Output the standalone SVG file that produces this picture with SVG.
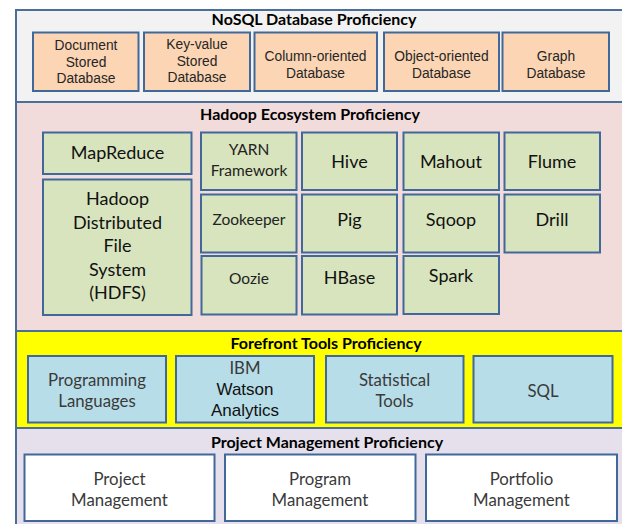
<svg xmlns="http://www.w3.org/2000/svg" width="622" height="524" viewBox="0 0 622 524">
<style>
.sec{stroke:#4a6d99;stroke-width:2}
.box{stroke:#41689a;stroke-width:2}
.nosql{fill:#fcd5b4}
.had{fill:#d7e4bd}
.ff{fill:#b7dde8}
.pm{fill:#ffffff}
.title{font-family:Lato,"Open Sans",sans-serif;font-weight:bold;font-size:16px;fill:#000;text-anchor:middle}
.ar{font-family:"Liberation Sans",Arial,sans-serif;font-size:13.8px;fill:#262626;text-anchor:middle}
.cal{font-family:Lato,"Open Sans",sans-serif;font-size:18px;fill:#111;text-anchor:middle}
.cals{font-family:Lato,"Open Sans",sans-serif;font-size:15.5px;fill:#222;text-anchor:middle}
.calg{font-family:Lato,"Open Sans",sans-serif;font-size:16.8px;fill:#3a3a3a;text-anchor:middle}
.arw{font-family:"Liberation Sans",Arial,sans-serif;font-size:17px;fill:#111;text-anchor:middle}
</style>
<rect width="622" height="524" fill="#ffffff"/>
<!-- Sections -->
<g id="sec-nosql">
<rect class="sec" x="16" y="10" width="612" height="92" fill="#f2f2f2"/>
<text class="title" x="314" y="25">NoSQL Database Proficiency</text>
</g>
<g id="sec-hadoop">
<rect class="sec" x="16" y="102" width="612" height="229" fill="#f2dcdb"/>
<text class="title" x="310" y="120">Hadoop Ecosystem Proficiency</text>
</g>
<g id="sec-forefront">
<rect class="sec" x="16" y="331" width="612" height="97" fill="#ffff00"/>
<text class="title" x="326" y="349">Forefront Tools Proficiency</text>
</g>
<g id="sec-pm">
<rect class="sec" x="16" y="428" width="612" height="100" fill="#e6e0ec"/>
<text class="title" x="327" y="448">Project Management Proficiency</text>
</g>
<!-- NoSQL nodes -->
<g id="n-document">
<rect class="box nosql" x="33" y="32.5" width="105.5" height="58.5"/>
<text class="ar" x="86" y="50">Document</text>
<text class="ar" x="86" y="66.5">Stored</text>
<text class="ar" x="86" y="83">Database</text>
</g>
<g id="n-keyvalue">
<rect class="box nosql" x="144" y="32.5" width="106" height="58.5"/>
<text class="ar" x="197" y="49">Key-value</text>
<text class="ar" x="197" y="65.5">Stored</text>
<text class="ar" x="197" y="82">Database</text>
</g>
<g id="n-column">
<rect class="box nosql" x="254.5" y="32.5" width="122.5" height="58.5"/>
<text class="ar" x="315.5" y="60.5">Column-oriented</text>
<text class="ar" x="315.5" y="77.5">Database</text>
</g>
<g id="n-object">
<rect class="box nosql" x="384" y="32.5" width="115" height="58.5"/>
<text class="ar" x="441.5" y="60.5">Object-oriented</text>
<text class="ar" x="441.5" y="77.5">Database</text>
</g>
<g id="n-graph">
<rect class="box nosql" x="502.5" y="32.5" width="106.5" height="58.5"/>
<text class="ar" x="556" y="60.5">Graph</text>
<text class="ar" x="556" y="77.5">Database</text>
</g>
<!-- Hadoop nodes -->
<g id="n-mapreduce">
<rect class="box had" x="43" y="132.5" width="148.5" height="41.5"/>
<text class="cal" x="117.5" y="159">MapReduce</text>
</g>
<g id="n-hdfs">
<rect class="box had" x="43" y="179.5" width="148.5" height="135.5"/>
<text class="cal" x="117.5" y="205">Hadoop</text>
<text class="cal" x="117.5" y="228.5">Distributed</text>
<text class="cal" x="117.5" y="252">File</text>
<text class="cal" x="117.5" y="275.5">System</text>
<text class="cal" x="117.5" y="299">(HDFS)</text>
</g>
<g id="n-yarn">
<rect class="box had" x="201" y="132.5" width="95.5" height="57.5"/>
<text class="cals" x="249" y="154.5">YARN</text>
<text class="cals" x="249" y="175.5">Framework</text>
</g>
<g id="n-hive">
<rect class="box had" x="302" y="132.5" width="95" height="57.5"/>
<text class="cal" x="349.5" y="168">Hive</text>
</g>
<g id="n-mahout">
<rect class="box had" x="403.5" y="132.5" width="95.5" height="57.5"/>
<text class="cal" x="451" y="168">Mahout</text>
</g>
<g id="n-flume">
<rect class="box had" x="504.5" y="132.5" width="95.5" height="57.5"/>
<text class="cal" x="552" y="168">Flume</text>
</g>
<g id="n-zookeeper">
<rect class="box had" x="201" y="194.5" width="95.5" height="58"/>
<text class="cals" x="249" y="224.5">Zookeeper</text>
</g>
<g id="n-pig">
<rect class="box had" x="302" y="194.5" width="95" height="58"/>
<text class="cal" x="349.5" y="226">Pig</text>
</g>
<g id="n-sqoop">
<rect class="box had" x="403.5" y="194.5" width="95.5" height="58"/>
<text class="cal" x="451" y="226">Sqoop</text>
</g>
<g id="n-drill">
<rect class="box had" x="504.5" y="194.5" width="95.5" height="58"/>
<text class="cal" x="552" y="226">Drill</text>
</g>
<g id="n-oozie">
<rect class="box had" x="201.5" y="256" width="95" height="58.5"/>
<text class="cals" x="249" y="283.5">Oozie</text>
</g>
<g id="n-hbase">
<rect class="box had" x="302" y="256" width="95" height="58.5"/>
<text class="cal" x="349.5" y="284">HBase</text>
</g>
<g id="n-spark">
<rect class="box had" x="403.5" y="256" width="95.5" height="58"/>
<text class="cal" x="451" y="282">Spark</text>
</g>
<!-- Forefront nodes -->
<g id="n-programming">
<rect class="box ff" x="28" y="356" width="138" height="66.5"/>
<text class="calg" x="97" y="386">Programming</text>
<text class="calg" x="97" y="407">Languages</text>
</g>
<g id="n-watson">
<rect class="box ff" x="176" y="356" width="138" height="66.5"/>
<text class="calg" x="245" y="374">IBM</text>
<text class="arw" x="245" y="395">Watson</text>
<text class="arw" x="245" y="416">Analytics</text>
</g>
<g id="n-statistical">
<rect class="box ff" x="326" y="356" width="137.5" height="66.5"/>
<text class="calg" x="394.5" y="386">Statistical</text>
<text class="calg" x="394.5" y="407">Tools</text>
</g>
<g id="n-sql">
<rect class="box ff" x="473.5" y="356" width="139" height="66.5"/>
<text class="calg" x="543" y="397">SQL</text>
</g>
<!-- PM nodes -->
<g id="n-project">
<rect class="box pm" x="24.5" y="454.5" width="190" height="66.5"/>
<text class="calg" x="119.5" y="485">Project</text>
<text class="calg" x="119.5" y="506">Management</text>
</g>
<g id="n-program">
<rect class="box pm" x="225" y="454.5" width="190.5" height="66.5"/>
<text class="calg" x="320" y="485">Program</text>
<text class="calg" x="320" y="506">Management</text>
</g>
<g id="n-portfolio">
<rect class="box pm" x="426" y="454.5" width="191" height="66.5"/>
<text class="calg" x="521.5" y="485">Portfolio</text>
<text class="calg" x="521.5" y="506">Management</text>
</g>
<g id="connectors"></g>
</svg>
